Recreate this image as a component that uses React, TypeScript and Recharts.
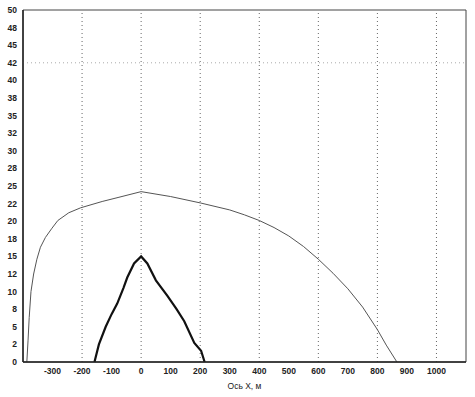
import React from 'react';
import { LineChart, Line, XAxis, YAxis, ReferenceLine, ReferenceArea } from 'recharts';

// outer envelope (thin grey line)
const outerX = [-387, -383, -379, -373, -364, -353, -341, -324, -302, -282, -245, -205, -132, -75, 0, 100, 200, 300, 350, 400, 450, 500, 550, 600, 650, 700, 750, 800, 830, 866];
const outerY = [0, 3, 6.3, 10, 12.5, 14.6, 16.3, 17.7, 19, 20.1, 21.2, 21.9, 22.8, 23.4, 24.2, 23.5, 22.6, 21.6, 20.9, 20.1, 19.1, 17.9, 16.4, 14.6, 12.6, 10.4, 7.8, 4.6, 2.4, 0];

// inner zone (thick black line)
const innerX = [-158, -143, -120, -100, -81, -60, -47, -24, 0, 21, 50, 89, 120, 146, 180, 203, 215];
const innerY = [0, 2.5, 5, 6.8, 8.3, 10.5, 12, 14, 15, 14, 11.6, 9.4, 7.5, 5.8, 2.7, 1.6, 0];

const xTicks = [-300, -200, -100, 0, 100, 200, 300, 400, 500, 600, 700, 800, 900, 1000];
const xGrid = [-200, 0, 200, 400, 600, 800, 1000];
const yTicks = [0, 2.5, 5, 7.5, 10, 12.5, 15, 17.5, 20, 22.5, 25, 27.5, 30, 32.5, 35, 37.5, 40, 42.5, 45, 47.5, 50];
const yTickLabels = ['0', '2', '5', '8', '10', '12', '15', '18', '20', '22', '25', '28', '30', '32', '35', '38', '40', '42', '45', '48', '50'];

const outerData = outerX.map((x, i) => ({ x, y: outerY[i] }));
const innerData = innerX.map((x, i) => ({ x, y: innerY[i] }));

const tickStyle = { fontSize: 8.5, fill: '#222', fontFamily: 'Liberation Sans, Arial, sans-serif', fontWeight: 'bold' as const };

export default function App() {
  return (
    <div style={{ position: 'absolute', left: 0, top: 0, background: '#fff' }}>
      <LineChart width={475} height={397} margin={{ top: 10, right: 9, left: 0, bottom: 5 }}>
        <ReferenceArea x1={-400} x2={1100} y1={0} y2={50} stroke="#444" strokeWidth={1} fill="none" />
        {xGrid.map((x) => (
          <ReferenceLine key={x} x={x} stroke="#666" strokeDasharray="1 3" strokeWidth={1} />
        ))}
        <ReferenceLine y={42.5} stroke="#aaa" strokeDasharray="1 3" strokeWidth={1} />
        <XAxis
          type="number"
          dataKey="x"
          domain={[-400, 1100]}
          ticks={xTicks}
          allowDataOverflow
          tickLine={false}
          tickSize={4}
          axisLine={{ stroke: '#222', strokeWidth: 1.5 }}
          tick={tickStyle}
          height={30}
          label={{ value: 'Ось X, м', position: 'insideBottom', offset: 3, style: { ...tickStyle, fontWeight: 'normal' } }}
        />
        <YAxis
          type="number"
          dataKey="y"
          domain={[0, 50]}
          ticks={yTicks}
          interval={0}
          tickFormatter={(v: number) => yTickLabels[yTicks.indexOf(v)] ?? String(v)}
          tickLine={false}
          tickSize={4}
          axisLine={{ stroke: '#222', strokeWidth: 1.5 }}
          tick={tickStyle}
          width={23}
        />
        <Line data={outerData} dataKey="y" type="linear" stroke="#555" strokeWidth={1} dot={false} isAnimationActive={false} />
        <Line data={innerData} dataKey="y" type="linear" stroke="#111" strokeWidth={2.2} dot={false} isAnimationActive={false} />
      </LineChart>
    </div>
  );
}
